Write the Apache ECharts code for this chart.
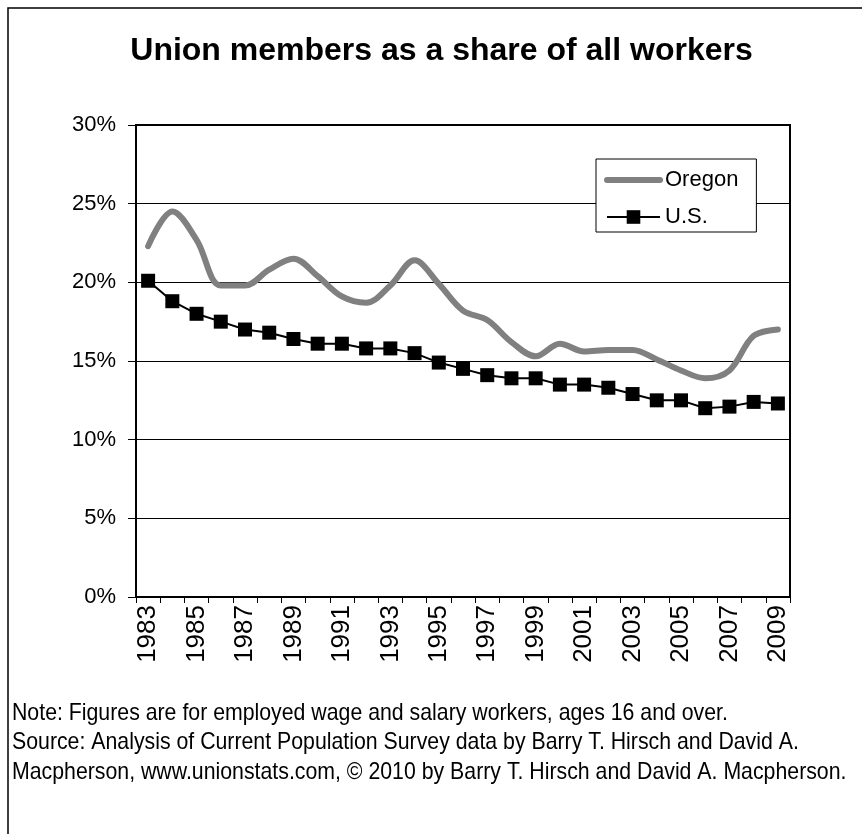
<!DOCTYPE html>
<html>
<head>
<meta charset="utf-8">
<script src="https://cdn.jsdelivr.net/npm/echarts@6/dist/echarts.min.js"></script>
<style>
html,body{margin:0;padding:0;background:#fff;}
#chart{width:862px;height:834px;}
</style>
</head>
<body>
<div id="chart"></div>
<script>
var years = ['1983','1984','1985','1986','1987','1988','1989','1990','1991','1992','1993','1994','1995','1996','1997','1998','1999','2000','2001','2002','2003','2004','2005','2006','2007','2008','2009'];
var oregon = [22.3, 24.5, 22.7, 19.8, 19.8, 20.8, 21.5, 20.4, 19.1, 18.7, 19.8, 21.4, 19.9, 18.2, 17.6, 16.2, 15.3, 16.1, 15.6, 15.7, 15.7, 15.1, 14.4, 13.9, 14.4, 16.6, 17.0];
var us = [20.1, 18.8, 18.0, 17.5, 17.0, 16.8, 16.4, 16.1, 16.1, 15.8, 15.8, 15.5, 14.9, 14.5, 14.1, 13.9, 13.9, 13.5, 13.5, 13.3, 12.9, 12.5, 12.5, 12.0, 12.1, 12.4, 12.3];
var titleText = 'Union members as a share of all workers';
var noteLines = [
  'Note: Figures are for employed wage and salary workers, ages 16 and over.',
  'Source: Analysis of Current Population Survey data by Barry T. Hirsch and David A.',
  'Macpherson, www.unionstats.com, \u00A9 2010 by Barry T. Hirsch and David A. Macpherson.'
];
var FONT = '"Liberation Sans", Arial, sans-serif';

var chart = echarts.init(document.getElementById('chart'), null, {renderer: 'canvas'});
var graphics = [
  {type: 'rect', shape: {x: 8, y: 8, width: 1000, height: 1000}, style: {fill: 'none', stroke: '#000', lineWidth: 1.5}, silent: true},
  {type: 'text', x: 441.5, y: 51, style: {text: titleText, fill: '#000', font: 'bold 32px ' + FONT, textAlign: 'center', textVerticalAlign: 'middle'}}
];
noteLines.forEach(function (t, i) {
  graphics.push({type: 'text', x: 12, y: 713 + i * 29.5, scaleX: 0.887, scaleY: 1,
    style: {text: t, fill: '#000', font: '24px ' + FONT, textAlign: 'left', textVerticalAlign: 'middle'}});
});

chart.setOption({
  animation: false,
  backgroundColor: '#fff',
  textStyle: {fontFamily: FONT},
  grid: {left: 136, right: 72, top: 125, bottom: 237, show: true, borderColor: '#000', borderWidth: 2, backgroundColor: 'transparent'},
  legend: {
    orient: 'vertical', left: 596, top: 159,
    padding: [10, 18, 4, 8], itemGap: 15,
    itemWidth: 53, itemHeight: 17,
    backgroundColor: '#fff', borderColor: '#000', borderWidth: 1,
    textStyle: {fontSize: 22, color: '#000', fontFamily: FONT},
    data: [
      {name: 'Oregon', lineStyle: {width: 6, color: '#808080', cap: 'round'}, itemStyle: {opacity: 0}},
      {name: 'U.S.'}
    ]
  },
  xAxis: {
    type: 'category', data: years, boundaryGap: true,
    axisLine: {lineStyle: {color: '#000', width: 2}},
    axisTick: {show: true, interval: 0, length: 6, lineStyle: {color: '#000', width: 1}},
    axisLabel: {interval: 1, rotate: 90, fontSize: 26, color: '#000', margin: 8, fontFamily: FONT},
    splitLine: {show: false}
  },
  yAxis: {
    type: 'value', min: 0, max: 30, interval: 5,
    axisLine: {show: true, lineStyle: {color: '#000', width: 2}},
    axisTick: {show: true, length: 8, lineStyle: {color: '#000', width: 1}},
    axisLabel: {formatter: '{value}%', fontSize: 22, color: '#000', margin: 20, fontFamily: FONT},
    splitLine: {show: true, lineStyle: {color: '#000', width: 1}}
  },
  series: [
    {
      name: 'Oregon', type: 'line', data: oregon, smooth: 0.35,
      symbol: 'none', showSymbol: false,
      lineStyle: {color: '#808080', width: 6, cap: 'round', join: 'round'},
      itemStyle: {color: '#808080'}, z: 2
    },
    {
      name: 'U.S.', type: 'line', data: us,
      symbol: 'rect', symbolSize: 14, showSymbol: true,
      lineStyle: {color: '#000', width: 2},
      itemStyle: {color: '#000'}, z: 3
    }
  ],
  graphic: graphics
});
</script>
</body>
</html>
